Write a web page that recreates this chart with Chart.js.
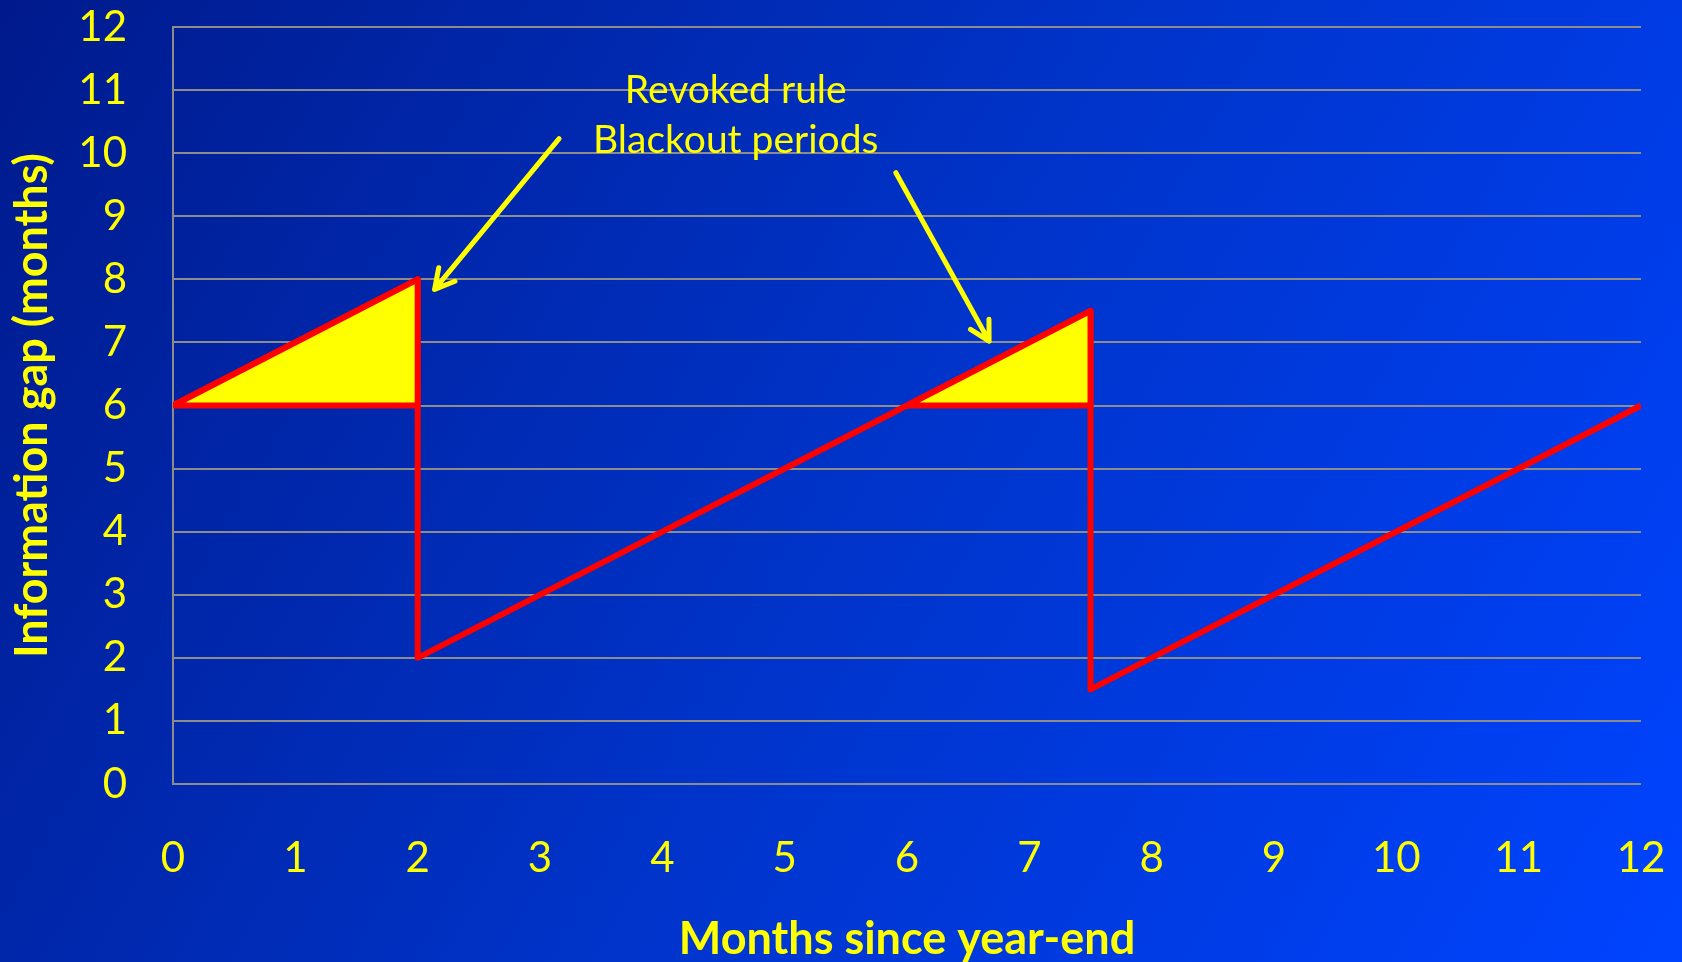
<!DOCTYPE html>
<html>
<head>
<meta charset="utf-8">
<script src="https://cdn.jsdelivr.net/npm/chart.js@4.4.1/dist/chart.umd.min.js"></script>
<style>
  html, body { margin: 0; padding: 0; background: #0033cc; overflow: hidden; }
  canvas { display: block; }
</style>
</head>
<body>
<canvas id="gapChart" width="1682" height="962"></canvas>
<script>
// information gap over the year (saw-tooth)
const gapMonths = [0, 2, 2, 6, 7.5, 7.5, 12];
const gapValues = [6, 8, 2, 6, 7.5, 1.5, 6];

// blackout periods: gap above the 6-month line
const blackoutStart = [0, 6];
const blackoutEnd = [2, 7.5];
const blackoutPeak = [8, 7.5];
const blackoutBase = 6;

const noteLines = ['Revoked rule', 'Blackout periods'];

const YELLOW = '#ffff00';
const RED = '#ff0000';
const GRID = '#8c8c8c';

const background = {
  id: 'background',
  beforeDraw(chart) {
    const { ctx, width, height } = chart;
    const g = ctx.createLinearGradient(0, 0, width, height);
    g.addColorStop(0, '#001a8c');
    g.addColorStop(0.5, '#0033c8');
    g.addColorStop(1, '#0044ff');
    ctx.save();
    ctx.fillStyle = g;
    ctx.fillRect(0, 0, width, height);
    ctx.restore();
  }
};

// text label with two arrows pointing at the blackout triangles
const notes = {
  id: 'notes',
  afterDatasetsDraw(chart) {
    const { ctx, scales: { x, y } } = chart;
    ctx.save();
    ctx.fillStyle = YELLOW;
    ctx.font = '39px Lato';
    ctx.textAlign = 'center';
    ctx.textBaseline = 'middle';
    ctx.fillText(noteLines[0], x.getPixelForValue(4.6), y.getPixelForValue(11.0));
    ctx.fillText(noteLines[1], x.getPixelForValue(4.6), y.getPixelForValue(10.2));

    const arrows = [
      [3.156, 10.23, 2.138, 7.84],
      [5.909, 9.69, 6.671, 7.02]
    ];
    ctx.strokeStyle = YELLOW;
    ctx.lineWidth = 5;
    ctx.lineCap = 'round';
    ctx.lineJoin = 'round';
    arrows.forEach(([x0, y0, x1, y1]) => {
      const ax = x.getPixelForValue(x0), ay = y.getPixelForValue(y0);
      const bx = x.getPixelForValue(x1), by = y.getPixelForValue(y1);
      const ang = Math.atan2(by - ay, bx - ax);
      const head = 22, spread = 0.5;
      ctx.beginPath();
      ctx.moveTo(ax, ay);
      ctx.lineTo(bx, by);
      ctx.moveTo(bx - head * Math.cos(ang - spread), by - head * Math.sin(ang - spread));
      ctx.lineTo(bx, by);
      ctx.lineTo(bx - head * Math.cos(ang + spread), by - head * Math.sin(ang + spread));
      ctx.stroke();
    });
    ctx.restore();
  }
};

const triangles = blackoutStart.map((s, i) => ({
  label: 'Blackout ' + (i + 1),
  data: [
    { x: s, y: blackoutBase },
    { x: blackoutEnd[i], y: blackoutPeak[i] },
    { x: blackoutEnd[i], y: blackoutBase },
    { x: s, y: blackoutBase }
  ],
  fill: 'shape',
  backgroundColor: YELLOW,
  borderColor: RED,
  borderWidth: 6,
  borderJoinStyle: 'round',
  pointRadius: 0,
  tension: 0
}));

new Chart(document.getElementById('gapChart').getContext('2d'), {
  type: 'line',
  data: {
    datasets: [
      ...triangles,
      {
        label: 'Information gap',
        data: gapMonths.map((m, i) => ({ x: m, y: gapValues[i] })),
        borderColor: RED,
        borderWidth: 6,
        borderJoinStyle: 'round',
        fill: false,
        pointRadius: 0,
        tension: 0
      }
    ]
  },
  options: {
    responsive: false,
    animation: false,
    layout: { padding: { top: 27, right: 41, bottom: 0, left: 0 } },
    plugins: {
      legend: { display: false },
      tooltip: { enabled: false }
    },
    scales: {
      x: {
        type: 'linear',
        min: 0,
        max: 12,
        afterFit: s => { s.height = 178; s.paddingLeft = 0; s.paddingRight = 0; },
        grid: { display: false, drawTicks: false },
        border: { display: false },
        ticks: {
          stepSize: 1,
          color: YELLOW,
          font: { family: 'Lato', size: 42 },
          padding: 49
        },
        title: {
          display: true,
          text: 'Months since year-end',
          color: YELLOW,
          font: { family: 'Lato', size: 45, weight: 'bold', lineHeight: 1.0 },
          padding: { top: 0, bottom: 0 }
        }
      },
      y: {
        min: 0,
        max: 12,
        afterFit: s => { s.width = 173; s.paddingTop = 0; s.paddingBottom = 0; },
        grid: { color: GRID, lineWidth: 2, drawTicks: false },
        border: { color: GRID, width: 2 },
        ticks: {
          stepSize: 1,
          color: YELLOW,
          font: { family: 'Lato', size: 42 },
          padding: 46
        },
        title: {
          display: true,
          text: 'Information gap (months)',
          color: YELLOW,
          font: { family: 'Lato', size: 45, weight: 'bold' },
          padding: { top: 5, bottom: 0 }
        }
      }
    }
  },
  plugins: [background, notes]
});
</script>
</body>
</html>
